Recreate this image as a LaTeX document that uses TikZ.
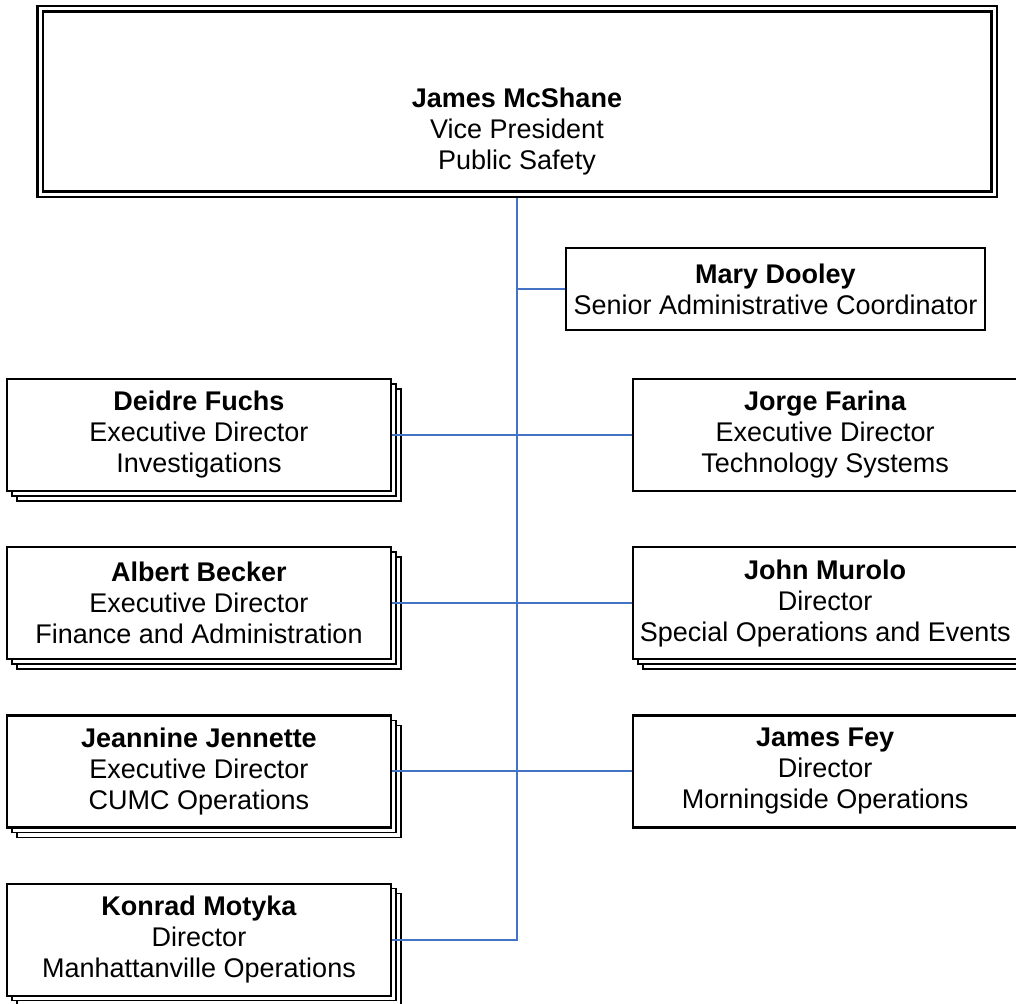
\documentclass[tikz,border=0pt]{standalone}
\usepackage{fontspec}
\setmainfont{Liberation Sans}
\usetikzlibrary{positioning,shadows}
\definecolor{PSBlue}{HTML}{4472C4}

\begin{document}
\begin{tikzpicture}[
  x=1pt, y=-1pt,
  node distance=54pt and 240pt,
  box/.style={draw=black, line width=2.2pt, fill=white, align=center, inner sep=3pt, font=\fontsize{27}{31}\selectfont},
  head/.style={box, double=white, double distance=3pt, outer sep=4pt, minimum width=954pt, minimum height=185pt},
  aide/.style={box, minimum width=419pt, minimum height=82pt},
  lead/.style={box, minimum width=384pt, minimum height=112pt},
  stacked/.style={lead, copy shadow={shadow xshift=10pt, shadow yshift=-10pt, line width=1.6pt}, copy shadow={shadow xshift=5pt, shadow yshift=-5pt, line width=1.6pt}},
  link/.style={draw=PSBlue, line width=2pt}
]
\useasboundingbox (0,0) rectangle (1016,1003);
\node[head, label={[name=vptext, align=center, yshift=-30pt, font=\fontsize{27}{31}\selectfont]center:\textbf{James McShane}\\Vice President\\Public Safety}] (vp) at (517,101.5) {};
\node[aide] (mary) at (775.5,289) {\textbf{Mary Dooley}\\Senior Administrative Coordinator};
\node[stacked] (deidre) at (199,435) {\textbf{Deidre Fuchs}\\Executive Director\\Investigations};
\node[stacked, below=of deidre] (albert) {\textbf{Albert Becker}\\Executive Director\\Finance and Administration};
\node[stacked, below=of albert] (jeannine) {\textbf{Jeannine Jennette}\\Executive Director\\CUMC Operations};
\node[stacked, below=of jeannine] (konrad) {\textbf{Konrad Motyka}\\Director\\Manhattanville Operations};
\node[lead, right=of deidre] (jorge) {\textbf{Jorge Farina}\\Executive Director\\Technology Systems};
\node[stacked, right=of albert] (murolo) {\textbf{John Murolo}\\Director\\Special Operations and Events};
\node[lead, right=of jeannine] (fey) {\textbf{James Fey}\\Director\\Morningside Operations};
% spine and branches
\coordinate (tail) at (vp.south |- konrad.east);
\draw[link] (vp.south) -- (tail) -- (konrad.east);
\draw[link] (vp.south |- mary.west) -- (mary.west);
\draw[link] (deidre.east) -- (jorge.west);
\draw[link] (albert.east) -- (murolo.west);
\draw[link] (jeannine.east) -- (fey.west);
\end{tikzpicture}
\end{document}
